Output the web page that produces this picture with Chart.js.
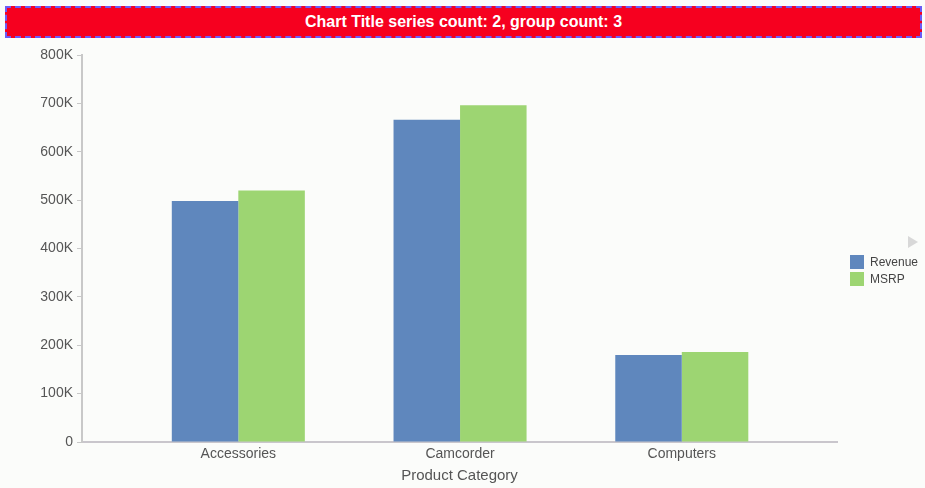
<!DOCTYPE html>
<html>
<head>
<meta charset="utf-8">
<script src="https://cdn.jsdelivr.net/npm/chart.js@4"></script>
<style>
    html, body { margin: 0; padding: 0; background: #fbfcfa; }
    .wrap { position: relative; width: 925px; height: 488px; font-family: "Liberation Sans", Arial, sans-serif; }
    .title {
        position: absolute; left: 5px; top: 6px; width: 917px; height: 32px; box-sizing: border-box;
        background: #f6001f; border: 2px dashed #6b5cf6;
        color: #fff; font-weight: bold; font-size: 16px; line-height: 28px; text-align: center;
    }
    canvas { position: absolute; left: 0; top: 0; }
    .legend { position: absolute; left: 850px; top: 252px; font-size: 12px; color: #444; }
    .legend .item { display: flex; align-items: center; height: 20px; margin-top: -3px; }
    .legend .item:first-child { margin-top: 0; }
    .legend .sw { width: 14px; height: 14px; margin-right: 6px; }
    .arrow {
        position: absolute; left: 908px; top: 236px; width: 0; height: 0;
        border-top: 6px solid transparent; border-bottom: 6px solid transparent; border-left: 10px solid #d8d8d8;
    }
</style>
</head>
<body>
<div class="wrap">
    <canvas id="chart" width="925" height="488"></canvas>
    <div class="title">Chart Title series count: 2, group count: 3</div>
    <div class="arrow"></div>
    <div class="legend" id="legend"></div>
</div>
<script>
const categories = ["Accessories", "Camcorder", "Computers"];
const seriesNames = ["Revenue", "MSRP"];
const revenue = [498000, 666000, 180000];
const msrp = [520000, 696000, 186000];
const colors = ["#5f87bd", "#9dd572"];
const yTicks = [0, 100000, 200000, 300000, 400000, 500000, 600000, 700000, 800000];

function points(values) {
    return values.map((v, i) => ({ x: i, y: v }));
}

const datasets = [revenue, msrp].map((vals, i) => ({
    label: seriesNames[i],
    data: points(vals),
    backgroundColor: colors[i],
    borderWidth: 0,
    categoryPercentage: 0.6,
    barPercentage: 1.0
}));

// legend
const legend = document.getElementById('legend');
seriesNames.forEach((name, i) => {
    const item = document.createElement('div');
    item.className = 'item';
    const sw = document.createElement('div');
    sw.className = 'sw';
    sw.style.background = colors[i];
    const txt = document.createElement('span');
    txt.innerText = name;
    item.append(sw, txt);
    legend.appendChild(item);
});

const tickFont = { family: '"Liberation Sans", Arial, sans-serif', size: 14 };

new Chart(document.getElementById('chart'), {
    type: 'bar',
    data: { datasets: datasets },
    options: {
        responsive: false,
        animation: false,
        layout: { padding: { top: 55, right: 88, bottom: 0, left: 0 } },
        scales: {
            x: {
                type: 'linear',
                min: -0.705,
                max: 2.7,
                offset: false,
                grid: { display: false, offset: false, drawTicks: false },
                border: { display: true, color: '#c9c6cc', width: 2 },
                afterBuildTicks: (scale) => {
                    scale.ticks = categories.map((c, i) => ({ value: i }));
                },
                afterFit: (scale) => { scale.height = 46; },
                ticks: {
                    padding: 4,
                    color: '#555',
                    font: tickFont,
                    maxRotation: 0,
                    callback: (v) => categories[v]
                },
                title: {
                    display: true,
                    text: 'Product Category',
                    color: '#555',
                    font: { family: '"Liberation Sans", Arial, sans-serif', size: 15 },
                    padding: { top: 0, bottom: 3 }
                }
            },
            y: {
                min: 0,
                max: 800000,
                afterBuildTicks: (scale) => {
                    scale.ticks = yTicks.map(v => ({ value: v }));
                },
                afterFit: (scale) => { scale.width = 82; },
                grid: { display: true, drawOnChartArea: false, drawTicks: true, tickLength: 5, color: '#c8c8c8' },
                border: { display: true, color: '#c8c8c8', width: 2 },
                ticks: {
                    padding: 4,
                    color: '#555',
                    font: tickFont,
                    callback: (v) => v === 0 ? '0' : (v / 1000) + 'K'
                }
            }
        },
        plugins: {
            legend: { display: false },
            title: { display: false },
            tooltip: { enabled: false }
        }
    }
});
</script>
</body>
</html>
